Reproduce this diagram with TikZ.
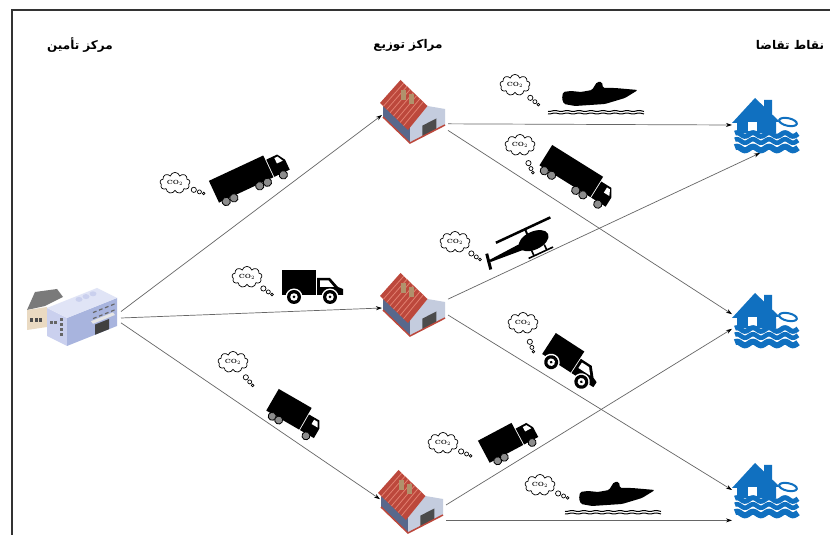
\documentclass[tikz,border=0pt]{standalone}
\usepackage{fontspec}
\usetikzlibrary{arrows.meta,shapes.symbols,calc}
\newfontfamily\arabicfont[Script=Arabic]{DejaVu Sans}
\TeXXeTstate=1
\definecolor{floodblue}{RGB}{16,112,192}
\definecolor{roofred}{RGB}{188,72,60}
\definecolor{roofstripe}{RGB}{226,128,112}
\definecolor{wallslate}{RGB}{88,104,140}
\definecolor{wallpale}{RGB}{196,204,222}
\definecolor{chimtan}{RGB}{176,146,108}
\definecolor{blocklav}{RGB}{168,180,222}
\definecolor{blockpale}{RGB}{202,208,238}
\definecolor{blocktop}{RGB}{224,228,246}
\definecolor{shedbeige}{RGB}{234,218,194}
\definecolor{shedroof}{RGB}{122,122,122}

\tikzset{
  flow/.style={draw=black!60, line width=0.7pt, -{Stealth[length=6pt,width=4pt,black]}},
  site/.style={inner sep=0pt, outer sep=0pt},
  title/.style={font=\arabicfont\bfseries\fontsize{12}{14}\selectfont},
  wheel/.style={fill=black!45, draw=black, line width=0.8pt},
  % CO2 cloud, #1 = direction of the trailing bubbles
  pics/co2/.style={code={
    \node[cloud, draw, line width=0.7pt, cloud puffs=9, aspect=1.4,
          minimum width=30pt, minimum height=21pt, inner sep=0pt,
          font=\fontsize{6}{6}\selectfont\bfseries] {CO$_2$};
    \draw[line width=0.7pt] (#1:20) circle (2.6);
    \draw[line width=0.7pt] (#1:26) circle (2);
    \draw[line width=0.7pt] (#1:30.5) circle (1.3);
  }},
  pics/semi/.style={code={
    \fill (-40,-3) rectangle (20,21);
    \fill (21,-3) -- (21,16) -- (33,16) -- (38,8) -- (38,-3) -- cycle;
    \fill[white] (29,8) -- (29,14) -- (32.5,14) -- (35.5,8) -- cycle;
    \foreach \wx in {-33,-24.5,4,12.5,30} \draw[wheel] (\wx,-5) circle (4.2);
  }},
  pics/boxtruck/.style={code={
    \fill (-28,-3) rectangle (10,22);
    \fill (11,-3) -- (11,15) -- (23,15) -- (27,8) -- (27,-3) -- cycle;
    \fill[white] (18,8) -- (18,13) -- (22,13) -- (25,8) -- cycle;
    \foreach \wx in {-20,-12.5,19} \draw[wheel] (\wx,-5) circle (4);
  }},
  pics/van/.style={code={
    \fill (-31,-7) rectangle (3,18);
    \fill (4,-7) -- (4,10) -- (17,10) -- (25,1) -- (30,-1) -- (30,-7) -- cycle;
    \fill[white] (7,1) -- (7,7.5) -- (15.5,7.5) -- (21,1) -- cycle;
    \foreach \wx in {-19,17} {
      \fill[white] (\wx,-9) circle (8.5);
      \fill (\wx,-9) circle (7);
      \fill[white] (\wx,-9) circle (3.8);
      \fill (\wx,-9) circle (1.5);
    }
  }},
  pics/boat/.style={code={
    \fill[rounded corners=1.5pt] (-38,-4) -- (-37,3) -- (-29,4) -- (-19,3) -- (-8,5)
      -- (-3,13) -- (2,13) -- (3,7) -- (15,7) -- (38,5) -- (25,-3) -- (5,-9)
      -- (-25,-11) -- (-36,-9) -- cycle;
    \foreach \yy in {-16,-18.5}
      \draw[line width=1pt] plot[domain=-52:44, samples=60, smooth] (\x,{\yy+0.5*sin(\x*30)});
  }},
  pics/heli/.style={code={
    \fill (15,0) ellipse (16 and 9);
    \fill (2,3) -- (-33,1.2) -- (-33,-1.2) -- (2,-4) -- cycle;
    \draw[line width=3pt] (-36,-8) -- (-33,8);
    \draw[line width=2.5pt] (-20,14) -- (40,14);
    \draw[line width=2pt] (12,8) -- (12,14);
    \draw[line width=1.6pt] (3,-14) -- (30,-14) (9,-8) -- (9,-14) (23,-8) -- (23,-14);
  }},
  % warehouse with red gable roof
  pics/depot/.style={code={
    \fill[wallslate] (-32,-2) -- (-5,-28) -- (-5,-12) -- (-32,14) -- cycle;
    \fill[wallpale] (-5,-28) -- (30,-10) -- (30,6) -- (12.5,9) -- (-5,-12) -- cycle;
    \fill[black!70] (7.25,-21.7) -- (21.25,-14.5) -- (21.25,-3.5) -- (7.25,-10.7) -- cycle;
    \fill[roofred] (-35,12) -- (-7,-15) -- (12.5,9) -- (-14.5,35) -- cycle;
    \foreach \s in {0.12,0.24,...,0.9}
      \draw[roofstripe, line width=0.8pt] ($(-35,12)!\s!(-7,-15)$) -- ($(-14.5,35)!\s!(12.5,9)$);
    \fill[chimtan] (-14,15) rectangle (-9.5,25);
    \fill[chimtan] (-6,11) rectangle (-1.5,21);
    \draw[roofred, line width=1.5pt] (-32,-2) -- (-5,-28) -- (30,-10);
  }},
  % supply plant
  pics/plant/.style={code={
    \fill[shedroof] (-48,8) -- (-30,12) -- (-12,21) -- (-18,29) -- (-40,26) -- cycle;
    \fill[shedbeige] (-48,-12) -- (-28,-9) -- (-28,11) -- (-48,8) -- cycle;
    \foreach \wx in {-45,-40.5,-36} \fill[black!70] (\wx,-4) rectangle ++(3.2,4);
    \fill[blockpale] (-28,-18) -- (-8,-28) -- (-8,0) -- (-28,10) -- cycle;
    \fill[blocklav] (-8,-28) -- (42,-8) -- (42,20) -- (-8,0) -- cycle;
    \fill[blocktop] (-28,10) -- (-8,0) -- (42,20) -- (22,30) -- cycle;
    \foreach \bx in {4,11,18} \fill[blockpale] (\bx,{17+0.4*\bx}) ellipse (3.5 and 2.5);
    \foreach \wy in {-15,-10,-5,0} \fill[black!60] (-15,{\wy-3}) rectangle ++(3,3.2);
    \foreach \wx in {-25,-21} \fill[black!60] (\wx,-6) rectangle ++(3,3.2);
    \foreach \wx in {18,24,30,36} {
      \draw[black!60, line width=1.2pt] (\wx,{-28+0.4*(\wx+8)+23}) -- ++(3.5,1.4);
      \draw[black!60, line width=1.2pt] (\wx,{-28+0.4*(\wx+8)+17}) -- ++(3.5,1.4);
    }
    \fill[black!10] (16,-3.2) -- (38,5.6) -- (40,3) -- (18,-5.8) -- cycle;
    \fill[black!75] (20,-16.8) -- (34,-11.2) -- (34,-1) -- (20,-6.6) -- cycle;
  }},
  % house in flood water
  pics/flood/.style={code={
    \fill[floodblue] (-33,2) -- (-10,27) -- (-1,18.4) -- (-1,25) -- (7,25) -- (7,10.7)
      -- (15,3) -- (11,3) -- (11,-8) -- (-28,-8) -- (-28,2) -- cycle;
    \fill[white] (-17,-6) rectangle (-8,3);
    \draw[floodblue, line width=2pt, rotate around={-12:(23,3)}] (23,3) ellipse (9 and 3.8);
    \foreach \yy/\ww in {-9.5/5,-16/4.5,-23.5/6}
      \draw[floodblue, line width=\ww pt] plot[domain=-30:33, samples=60, smooth] (\x,{\yy+1.8*sin(\x*22.5)});
  }},
}

\begin{document}
\begin{tikzpicture}[x=1pt, y=1pt]
\fill[white] (0,0) rectangle (830,535);
\useasboundingbox (0,0) rectangle (830,535);
\draw[black!80, line width=1.3pt] (12,0) -- (12,525) -- (830,525);

% column titles
\node[title] (ttlsup) at (80,490) {\arabicfont\beginR مرکز تأمین\endR};
\node[title] (ttldc) at (408,490) {\arabicfont\beginR مراکز توزیع\endR};
\node[title] (ttldem) at (790,490) {\arabicfont\beginR نقاط تقاضا\endR};

% sites
\node[site, minimum width=92pt, minimum height=62pt] (sup) at (75,217) {};
\node[site, minimum width=66pt, minimum height=62pt] (dc1) at (415,420) {};
\node[site, minimum width=66pt, minimum height=62pt] (dc2) at (415,227) {};
\node[site, minimum width=66pt, minimum height=62pt] (dc3) at (413,30) {};
\node[site, minimum width=66pt, minimum height=56pt] (dem1) at (765,410) {};
\node[site, minimum width=66pt, minimum height=56pt] (dem2) at (765,215) {};
\node[site, minimum width=66pt, minimum height=56pt] (dem3) at (765,45) {};

% flows
\draw[flow] (sup.8) -- (dc1.west);
\draw[flow] (sup.east) -- (dc2.west);
\draw[flow] (sup.-6) -- (dc3.170);
\draw[flow] (dc1.-15) -- (dem1.west);
\draw[flow] (dc1.-25) -- (dem2.170);
\draw[flow] (dc2.15) -- (dem1.-100);
\draw[flow] (dc2.-12) -- (dem3.west);
\draw[flow] (dc3.east) -- (dem2.195);
\draw[flow] (dc3.-25) -- (dc3.-25 -| dem3.west);

% buildings
\pic at (sup) {plant};
\foreach \d in {dc1,dc2,dc3} \pic at (\d) {depot};
\foreach \d in {dem1,dem2,dem3} \pic at (\d) {flood};

% vehicles
\pic[rotate=25] at (254,352) {semi};
\pic at (313,247) {van};
\pic[rotate=-30] at (292,113) {boxtruck};
\pic at (600,440) {boat};
\pic[rotate=-32] at (575,351) {semi};
\pic[rotate=25] at (520,288) {heli};
\pic[rotate=-33] at (572,170) {van};
\pic[rotate=28] at (513,88) {boxtruck};
\pic at (617,40) {boat};

% emissions
\pic at (175,352) {co2=-20};
\pic at (247,258) {co2=-35};
\pic at (233,173) {co2=-50};
\pic at (515,450) {co2=-40};
\pic at (520,390) {co2=-65};
\pic at (455,293) {co2=-35};
\pic at (523,212) {co2=-70};
\pic at (443,92) {co2=-25};
\pic at (540,50) {co2=-25};
\end{tikzpicture}
\end{document}
